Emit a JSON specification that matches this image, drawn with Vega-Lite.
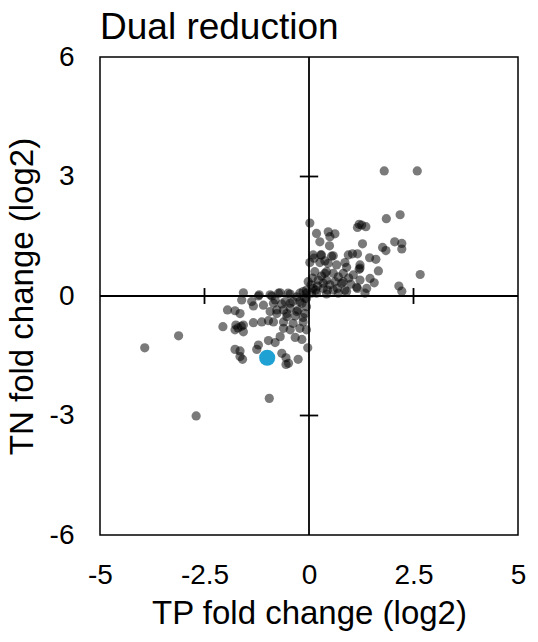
{
  "$schema": "https://vega.github.io/schema/vega-lite/v6.json",
  "width": 418,
  "height": 478,
  "autosize": "none",
  "padding": {"left": 100, "top": 57, "right": 20, "bottom": 107},
  "title": {"text": "Dual reduction", "anchor": "start", "frame": "group", "baseline": "alphabetic", "offset": 0, "dy": 33, "font": "Liberation Sans", "fontSize": 37, "fontWeight": "normal", "color": "black"},
  "config": {
    "view": {"stroke": "black", "strokeWidth": 1.5},
    "axis": {"domain": false, "ticks": false, "grid": false, "labelFont": "Liberation Sans", "labelFontSize": 28, "labelColor": "black", "titleFont": "Liberation Sans", "titleFontSize": 33, "titleFontWeight": "normal", "titleColor": "black", "labelFlush": false}
  },
  "encoding": {
    "x": {"field": "x", "type": "quantitative", "scale": {"domain": [-5, 5], "nice": false, "zero": false}, "axis": {"values": [-5, -2.5, 0, 2.5, 5], "labelExpr": "toString(datum.value)", "labelPadding": 26, "title": "TP fold change (log2)", "titlePadding": 8}},
    "y": {"field": "y", "type": "quantitative", "scale": {"domain": [-6, 6], "nice": false, "zero": false}, "axis": {"values": [-6, -3, 0, 3, 6], "labelExpr": "toString(datum.value)", "labelPadding": 26, "title": "TN fold change (log2)", "titlePadding": 10}}
  },
  "layer": [
    {
      "data": {"values": [
        {"x": 0, "x2": 0, "y": -6, "y2": 6},
        {"x": -5, "x2": 5, "y": 0, "y2": 0},
        {"x": -2.5, "x2": -2.5, "y": -0.2, "y2": 0.2},
        {"x": 2.5, "x2": 2.5, "y": -0.2, "y2": 0.2},
        {"x": -0.22, "x2": 0.22, "y": 3, "y2": 3},
        {"x": -0.22, "x2": 0.22, "y": -3, "y2": -3}
      ]},
      "mark": {"type": "rule", "color": "black", "strokeWidth": 1.8},
      "encoding": {"x2": {"field": "x2"}, "y2": {"field": "y2"}}
    },
    {
      "data": {"values": [
        {"x":1.80,"y":3.14},{"x":2.59,"y":3.14},{"x":1.85,"y":1.94},{"x":2.18,"y":2.04},{"x":2.05,"y":1.36},{"x":2.22,"y":1.32},{"x":2.22,"y":1.18},{"x":1.76,"y":1.22},{"x":1.84,"y":1.14},{"x":1.45,"y":0.96},{"x":1.60,"y":0.92},{"x":2.66,"y":0.54},{"x":1.66,"y":0.63},{"x":2.15,"y":0.25},{"x":2.22,"y":0.12},{"x":1.36,"y":1.74},{"x":1.26,"y":1.78},{"x":1.28,"y":1.31},{"x":1.46,"y":0.44},{"x":1.56,"y":0.33},{"x":1.38,"y":0.19},{"x":1.34,"y":0.07},
        {"x":0.02,"y":1.83},{"x":1.20,"y":1.80},{"x":1.16,"y":1.72},{"x":0.18,"y":1.57},{"x":0.46,"y":1.61},{"x":0.62,"y":1.56},{"x":0.26,"y":1.36},{"x":0.50,"y":1.49},{"x":0.49,"y":1.26},{"x":0.10,"y":1.03},{"x":0.28,"y":1.03},{"x":0.58,"y":1.01},{"x":1.04,"y":1.06},{"x":1.16,"y":1.06},{"x":0.02,"y":0.84},{"x":0.26,"y":0.84},{"x":0.46,"y":0.82},{"x":0.66,"y":0.78},{"x":0.86,"y":0.84},{"x":0.90,"y":0.72},{"x":1.22,"y":0.78},{"x":1.20,"y":0.67},{"x":0.14,"y":0.61},{"x":0.38,"y":0.57},{"x":0.58,"y":0.57},{"x":0.82,"y":0.57},{"x":1.06,"y":0.53},{"x":1.22,"y":0.40},{"x":-0.02,"y":0.36},{"x":0.22,"y":0.40},{"x":0.42,"y":0.40},{"x":0.62,"y":0.36},{"x":0.82,"y":0.36},{"x":1.16,"y":0.19},{"x":0.10,"y":0.19},{"x":0.34,"y":0.19},{"x":0.58,"y":0.15},{"x":0.86,"y":0.15},{"x":-0.06,"y":0.07},{"x":0.18,"y":0.07},{"x":0.42,"y":0.05},{"x":0.70,"y":0.07},
        {"x":0.30,"y":1.03},{"x":0.54,"y":1.00},{"x":0.94,"y":1.03},{"x":0.42,"y":0.61},{"x":0.34,"y":0.32},{"x":0.78,"y":0.32},{"x":0.16,"y":0.15},{"x":0.44,"y":0.15},{"x":0.68,"y":0.19},{"x":0.90,"y":0.11},{"x":0.06,"y":0.07},{"x":-0.06,"y":0.15},{"x":-0.14,"y":0.11},
        {"x":0.08,"y":0.45},{"x":0.30,"y":0.50},{"x":0.50,"y":0.28},{"x":0.70,"y":0.48},{"x":1.00,"y":0.30},{"x":0.95,"y":0.45},{"x":0.20,"y":0.25},{"x":0.05,"y":0.28},{"x":0.12,"y":0.95},{"x":0.38,"y":0.88},{"x":1.22,"y":0.70},{"x":1.14,"y":0.22},
        {"x":-1.57,"y":0.08},{"x":-1.19,"y":0.03},{"x":-0.93,"y":0.03},{"x":-0.69,"y":0.08},{"x":-0.45,"y":0.05},{"x":-0.22,"y":0.07},{"x":-1.61,"y":-0.10},{"x":-1.37,"y":-0.14},{"x":-1.33,"y":-0.25},{"x":-1.09,"y":-0.23},{"x":-0.85,"y":-0.18},{"x":-0.65,"y":-0.20},{"x":-0.45,"y":-0.18},{"x":-0.22,"y":-0.14},{"x":-0.06,"y":-0.06},{"x":-1.95,"y":-0.35},{"x":-1.77,"y":-0.37},{"x":-1.65,"y":-0.44},{"x":-0.93,"y":-0.39},{"x":-0.77,"y":-0.44},{"x":-0.53,"y":-0.44},{"x":-0.29,"y":-0.39},{"x":-0.10,"y":-0.44},{"x":-1.33,"y":-0.67},{"x":-1.13,"y":-0.65},{"x":-0.97,"y":-0.62},{"x":-0.85,"y":-0.65},{"x":-0.61,"y":-0.65},{"x":-0.38,"y":-0.69},{"x":-0.14,"y":-0.65},{"x":-2.06,"y":-0.77},{"x":-1.75,"y":-0.73},{"x":-1.57,"y":-0.73},{"x":-1.77,"y":-0.85},{"x":-1.57,"y":-0.90},{"x":-0.61,"y":-0.81},{"x":-0.45,"y":-0.85},{"x":-0.22,"y":-0.81},{"x":-0.06,"y":-0.85},{"x":-0.69,"y":-1.02},{"x":-0.33,"y":-1.04},{"x":-0.17,"y":-1.09},{"x":-0.97,"y":-1.12},{"x":-0.81,"y":-1.17},{"x":-0.03,"y":-1.30},{"x":-1.77,"y":-1.34},{"x":-1.65,"y":-1.38},{"x":-1.25,"y":-1.34},{"x":-1.21,"y":-1.23},{"x":-1.59,"y":-1.59},{"x":-1.65,"y":-1.52},{"x":-0.65,"y":-1.44},{"x":-0.55,"y":-1.55},{"x":-0.49,"y":-1.69},{"x":-0.55,"y":-1.72},{"x":-0.26,"y":-1.59},
        {"x":-3.12,"y":-1.00},{"x":-3.93,"y":-1.30},{"x":-2.70,"y":-3.01},{"x":-0.95,"y":-2.57},
        {"x":-0.50,"y":0.07},{"x":-0.29,"y":-0.02},{"x":-0.10,"y":-0.06},{"x":-0.81,"y":-0.10},{"x":-0.57,"y":-0.14},{"x":-0.38,"y":-0.14},{"x":-0.17,"y":-0.18},{"x":-0.06,"y":-0.27},{"x":-0.77,"y":-0.35},{"x":-0.61,"y":-0.35},{"x":-0.45,"y":-0.31},{"x":-0.26,"y":-0.35},{"x":-0.53,"y":-0.52},{"x":-0.33,"y":-0.50},{"x":-0.14,"y":-0.54},
        {"x":-1.21,"y":0.0},{"x":-0.89,"y":0.0},{"x":-0.73,"y":0.07},{"x":-1.70,"y":-0.80},{"x":-1.62,"y":-0.76}
      ]},
      "mark": {"type": "circle", "color": "black", "opacity": 0.52, "size": 85, "stroke": null}
    },
    {
      "data": {"values": [{"x": -1.0, "y": -1.55}]},
      "mark": {"type": "circle", "color": "#1fa2d3", "opacity": 1, "size": 260}
    }
  ]
}
